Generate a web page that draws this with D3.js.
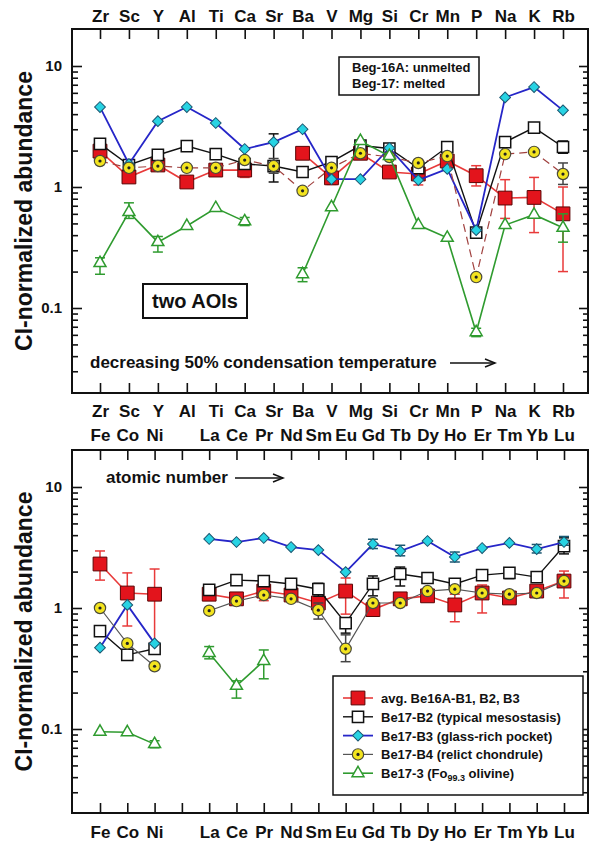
<!DOCTYPE html>
<html>
<head>
<meta charset="utf-8">
<script src="https://cdn.jsdelivr.net/npm/d3@7"></script>
<style>
  body { margin: 0; background: #fff; }
  svg text { font-family: Arial, "Liberation Sans", Helvetica, sans-serif; font-weight: bold; fill: #111; }
</style>
</head>
<body>
<div id="chart"></div>
<script>
// element order, top panel (decreasing 50% condensation temperature)
const topElements = ["Zr","Sc","Y","Al","Ti","Ca","Sr","Ba","V","Mg","Si","Cr","Mn","P","Na","K","Rb"];
// element order, bottom panel (atomic number), one empty slot between Ni and La
const botElements = ["Fe","Co","Ni","","La","Ce","Pr","Nd","Sm","Eu","Gd","Tb","Dy","Ho","Er","Tm","Yb","Lu"];

// CI-normalized abundances, top panel
const be16aTop  = [1.98,1.21,1.52,1.10,1.38,1.38,null,1.90,1.19,1.90,1.33,1.28,1.64,1.24,0.81,0.82,0.60];
const be17b2Top = [2.27,1.52,1.84,2.18,1.87,1.55,1.49,1.33,1.61,2.20,2.08,1.43,2.14,0.42,2.35,3.10,2.14];
const be17b3Top = [4.58,1.55,3.50,4.58,3.38,2.06,2.35,3.00,1.16,1.16,2.10,1.14,1.41,0.44,5.50,6.70,4.30];
const be17b4Top = [1.64,1.44,1.49,1.44,1.44,1.67,1.49,0.93,1.44,1.90,1.77,1.58,1.80,0.18,1.87,1.95,1.28];
const be173Top  = [0.235,0.62,0.35,0.476,0.67,0.52,null,0.19,0.68,2.40,1.80,0.485,0.38,0.063,0.485,0.59,0.46];

// error bar limits, top panel (null = no bar)
const be16aTopLo  = [null,null,null,null,null,1.20,null,null,1.05,null,null,1.04,null,1.02,0.55,0.42,0.20];
const be16aTopHi  = [null,null,null,null,null,1.55,null,null,1.35,null,null,1.67,null,1.50,1.15,1.20,1.00];
const be17b2TopLo = [null,null,null,null,null,null,1.10,null,null,null,null,null,null,null,null,null,1.90];
const be17b2TopHi = [null,null,null,null,null,null,2.75,null,null,null,null,null,null,null,null,null,2.40];
const be17b4TopLo = [null,null,null,null,null,null,1.30,null,null,null,null,null,null,null,null,null,1.05];
const be17b4TopHi = [null,null,null,null,null,null,1.72,null,null,null,null,null,null,null,null,null,1.58];
const be173TopLo  = [0.19,0.55,0.29,null,null,0.48,null,0.165,null,null,null,null,null,0.058,null,null,0.35];
const be173TopHi  = [0.26,0.74,0.39,null,null,0.56,null,0.215,null,null,null,null,null,0.068,null,null,0.60];

// CI-normalized abundances, bottom panel
const be16aBot  = [2.31,1.33,1.30,null,1.30,1.19,1.38,1.28,1.10,1.38,0.97,1.19,1.26,1.06,1.33,1.21,1.38,1.67];
const be17b2Bot = [0.645,0.41,0.46,null,1.41,1.70,1.67,1.58,1.43,0.75,1.58,1.91,1.77,1.58,1.87,1.95,1.80,3.25];
const be17b3Bot = [0.47,1.06,0.51,null,3.72,3.51,3.79,3.19,3.01,1.98,3.38,2.96,3.58,2.64,3.13,3.45,3.07,3.51];
const be17b4Bot = [1.00,0.51,0.33,null,0.95,1.14,1.28,1.19,0.96,0.46,1.10,1.10,1.38,1.43,1.33,1.30,1.33,1.67];
const be173Bot  = [0.095,0.094,0.075,null,0.425,0.227,0.365,null,null,null,null,null,null,null,null,null,null,null];

// error bar limits, bottom panel
const be16aBotLo  = [1.70,0.71,0.52,null,null,null,1.15,null,null,0.89,null,null,null,0.77,0.91,null,null,1.21];
const be16aBotHi  = [2.96,1.95,2.10,null,null,null,1.62,null,null,1.77,null,null,null,1.30,1.55,null,null,2.02];
const be17b2BotLo = [null,null,null,null,null,null,null,null,1.25,0.62,1.26,1.52,null,1.45,null,1.75,null,2.80];
const be17b2BotHi = [null,null,null,null,null,null,null,null,1.60,0.83,1.84,2.18,null,1.70,null,2.10,null,3.80];
const be17b3BotLo = [null,null,null,null,null,null,null,null,null,null,3.10,2.70,null,2.40,null,null,2.85,3.30];
const be17b3BotHi = [null,null,null,null,null,null,null,null,null,null,3.70,3.30,null,2.90,null,null,3.35,3.90];
const be17b4BotLo = [null,null,null,null,null,null,null,null,0.81,0.36,null,null,null,null,null,null,null,null];
const be17b4BotHi = [null,null,null,null,null,null,null,null,1.10,0.60,null,null,null,null,null,null,null,null];
const be173BotLo  = [null,null,0.070,null,0.38,0.18,0.26,null,null,null,null,null,null,null,null,null,null,null];
const be173BotHi  = [null,null,0.080,null,0.48,0.25,0.45,null,null,null,null,null,null,null,null,null,null,null];

const legendLabels = ["avg. Be16A-B1, B2, B3","Be17-B2 (typical mesostasis)","Be17-B3 (glass-rich pocket)","Be17-B4 (relict chondrule)","Be17-3 (Fo"];

let W = 591, H = 843;
let left = 72, right = 588;

let svg = d3.select("#chart").append("svg")
    .attr("width", W)
    .attr("height", H);

// series styles, same order as legend
const styles = [
  {marker: "square",   fill: "#e3141c", stroke: "#5a0505", line: "#e83a3a", width: 1.6},
  {marker: "open",     fill: "#ffffff", stroke: "#111111", line: "#111111", width: 1.4},
  {marker: "diamond",  fill: "#27d3e3", stroke: "#1a5670", line: "#2626c8", width: 1.8},
  {marker: "circle",   fill: "#f3e41e", stroke: "#4a4a3a", line: "#555555", width: 1.2},
  {marker: "triangle", fill: "#ffffff", stroke: "#2f9b2f", line: "#2f9b2f", width: 1.6}
];

function drawMarker(g, type, st) {
  if (type == "square") {
    g.append("path").attr("d", d3.symbol(d3.symbolSquare, 190)())
      .attr("fill", st.fill).attr("stroke", st.stroke).attr("stroke-width", 1);
  } else if (type == "open") {
    g.append("path").attr("d", d3.symbol(d3.symbolSquare, 125)())
      .attr("fill", st.fill).attr("stroke", st.stroke).attr("stroke-width", 1.5);
  } else if (type == "diamond") {
    g.append("path").attr("d", d3.symbol(d3.symbolSquare, 58)())
      .attr("transform", "rotate(45)")
      .attr("fill", st.fill).attr("stroke", st.stroke).attr("stroke-width", 1);
  } else if (type == "circle") {
    g.append("path").attr("d", d3.symbol(d3.symbolCircle, 100)())
      .attr("fill", st.fill).attr("stroke", st.stroke).attr("stroke-width", 1.2);
    g.append("circle").attr("r", 1.6).attr("fill", "#222");
  } else {
    g.append("path").attr("d", d3.symbol(d3.symbolTriangle, 62)())
      .attr("fill", st.fill).attr("stroke", st.stroke).attr("stroke-width", 1.5);
  }
}

function drawPanel(top, bottom, elements, series, topLabelPad, botLabelPad, showTopLabels, showBotLabels) {
  let x = d3.scaleLinear()
      .domain([0, elements.length - 1])
      .range([100, elements.length == 17 ? 563 : 564]);

  // 10 sits 37px below the frame top, one decade = 121px
  let y = d3.scaleLog()
      .domain([0.1, 10])
      .range([top + 37 + 242, top + 37]);

  let g = svg.append("g");
  let idx = d3.range(elements.length);

  // category ticks, top and bottom, pointing inwards
  let xTopAxis = g.append("g")
      .attr("transform", "translate(0," + top + ")")
      .call(d3.axisTop(x).tickValues(idx).tickSize(-10).tickPadding(topLabelPad)
        .tickFormat(i => showTopLabels ? showTopLabels[i] : ""));
  let xBotAxis = g.append("g")
      .attr("transform", "translate(0," + bottom + ")")
      .call(d3.axisBottom(x).tickValues(idx).tickSize(-10).tickPadding(botLabelPad)
        .tickFormat(i => showBotLabels ? showBotLabels[i] : ""));

  // log ticks, left and right
  let minor = [];
  [0.01, 0.1, 1, 10].forEach(d => { for (let k = 2; k <= 9; k++) minor.push(d * k); });
  minor = minor.filter(v => y(v) > top + 2 && y(v) < bottom - 2);

  g.append("g")
      .attr("transform", "translate(" + left + ",0)")
      .call(d3.axisLeft(y).tickValues([0.1, 1, 10]).tickSize(-10).tickPadding(10)
        .tickFormat(d => d >= 1 ? d3.format("d")(d) : "0.1"));
  g.append("g")
      .attr("transform", "translate(" + left + ",0)")
      .call(d3.axisLeft(y).tickValues(minor).tickSize(-6).tickFormat(""));
  g.append("g")
      .attr("transform", "translate(" + right + ",0)")
      .call(d3.axisRight(y).tickValues([0.1, 1, 10]).tickSize(-9).tickFormat(""));
  g.append("g")
      .attr("transform", "translate(" + right + ",0)")
      .call(d3.axisRight(y).tickValues(minor).tickSize(-5).tickFormat(""));

  g.selectAll(".domain").remove();
  g.selectAll(".tick line").attr("stroke", "#111").attr("stroke-width", 1.6);
  g.selectAll(".tick text").attr("font-size", 15).attr("fill", "#111")
      .attr("font-family", "Arial, 'Liberation Sans', sans-serif").attr("font-weight", "bold");
  xTopAxis.selectAll(".tick text").attr("font-size", 17);
  xBotAxis.selectAll(".tick text").attr("font-size", 17);

  // frame
  g.append("rect")
      .attr("x", left).attr("y", top)
      .attr("width", right - left).attr("height", bottom - top)
      .attr("fill", "none").attr("stroke", "#111").attr("stroke-width", 2);

  let line = d3.line()
      .defined(d => d.v != null)
      .x(d => x(d.i))
      .y(d => y(d.v));

  series.forEach(s => {
    let st = styles[s.style];
    let pts = s.values.map((v, i) => ({i: i, v: v, lo: s.lo[i], hi: s.hi[i]}));

    g.append("path")
        .datum(pts)
        .attr("fill", "none")
        .attr("stroke", s.line || st.line)
        .attr("stroke-width", st.width)
        .attr("stroke-dasharray", s.dash || null)
        .attr("d", line);

    // error bars
    let eb = g.append("g").attr("stroke", s.style == 0 ? "#e83a3a" : st.stroke == "#4a4a3a" ? "#444" : st.stroke)
        .attr("stroke-width", 1.5);
    pts.filter(d => d.lo != null).forEach(d => {
      eb.append("line").attr("x1", x(d.i)).attr("x2", x(d.i)).attr("y1", y(d.lo)).attr("y2", y(d.hi));
      eb.append("line").attr("x1", x(d.i) - 5).attr("x2", x(d.i) + 5).attr("y1", y(d.lo)).attr("y2", y(d.lo));
      eb.append("line").attr("x1", x(d.i) - 5).attr("x2", x(d.i) + 5).attr("y1", y(d.hi)).attr("y2", y(d.hi));
    });

    g.append("g").selectAll("g")
        .data(pts.filter(d => d.v != null))
        .join("g")
        .attr("transform", d => "translate(" + x(d.i) + "," + y(d.v) + ")")
        .each(function() { drawMarker(d3.select(this), st.marker, st); });
  });

  // y axis title
  svg.append("text")
      .attr("transform", "translate(32," + ((top + bottom) / 2) + ")rotate(-90)")
      .attr("text-anchor", "middle")
      .attr("font-size", 23)
      .text("CI-normalized abundance");

  return {x: x, y: y};
}

// top panel
drawPanel(29, 393, topElements, [
  {style: 0, values: be16aTop,  lo: be16aTopLo,  hi: be16aTopHi},
  {style: 1, values: be17b2Top, lo: be17b2TopLo, hi: be17b2TopHi},
  {style: 2, values: be17b3Top, lo: topElements.map(() => null), hi: topElements.map(() => null)},
  {style: 3, values: be17b4Top, lo: be17b4TopLo, hi: be17b4TopHi, line: "#a0403e", dash: "8,5"},
  {style: 4, values: be173Top,  lo: be173TopLo,  hi: be173TopHi}
], 7, 12, topElements, topElements);

// bottom panel
drawPanel(450, 813, botElements, [
  {style: 0, values: be16aBot,  lo: be16aBotLo,  hi: be16aBotHi},
  {style: 1, values: be17b2Bot, lo: be17b2BotLo, hi: be17b2BotHi},
  {style: 2, values: be17b3Bot, lo: be17b3BotLo, hi: be17b3BotHi},
  {style: 3, values: be17b4Bot, lo: be17b4BotLo, hi: be17b4BotHi},
  {style: 4, values: be173Bot,  lo: be173BotLo,  hi: be173BotHi}
], 9, 13, botElements, botElements);

// annotations, top panel
svg.append("rect").attr("x", 339).attr("y", 57).attr("width", 140).attr("height", 38)
    .attr("fill", "#fff").attr("stroke", "#111").attr("stroke-width", 1.5);
svg.append("text").attr("x", 352).attr("y", 72).attr("font-size", 13).text("Beg-16A: unmelted");
svg.append("text").attr("x", 352).attr("y", 88).attr("font-size", 13).text("Beg-17: melted");

svg.append("rect").attr("x", 143).attr("y", 284).attr("width", 104).attr("height", 34)
    .attr("fill", "#fff").attr("stroke", "#111").attr("stroke-width", 2);
svg.append("text").attr("x", 195).attr("y", 308).attr("text-anchor", "middle")
    .attr("font-size", 20).text("two AOIs");

svg.append("text").attr("x", 90).attr("y", 368).attr("font-size", 17)
    .text("decreasing 50% condensation temperature");
svg.append("text").attr("x", 106).attr("y", 483).attr("font-size", 17)
    .text("atomic number");

function arrow(x1, x2, yy) {
  svg.append("line").attr("x1", x1).attr("x2", x2).attr("y1", yy).attr("y2", yy)
      .attr("stroke", "#111").attr("stroke-width", 1.5);
  svg.append("path").attr("d", "M" + (x2 - 10) + "," + (yy - 4) + "L" + x2 + "," + yy + "L" + (x2 - 10) + "," + (yy + 4))
      .attr("fill", "none").attr("stroke", "#111").attr("stroke-width", 1.5);
}
arrow(450, 495, 363);
arrow(235, 283, 478);

// legend
let lg = svg.append("g");
lg.append("rect").attr("x", 333).attr("y", 676).attr("width", 250).attr("height", 119)
    .attr("fill", "#fff").attr("stroke", "#111").attr("stroke-width", 1.5);
legendLabels.forEach((lab, i) => {
  let st = styles[i];
  let yy = 698 + i * 18.8;
  lg.append("line").attr("x1", 343).attr("x2", 373).attr("y1", yy).attr("y2", yy)
      .attr("stroke", st.line).attr("stroke-width", st.width);
  let m = lg.append("g").attr("transform", "translate(358," + yy + ")");
  drawMarker(m, st.marker, st);
  let t = lg.append("text").attr("x", 381).attr("y", yy + 5).attr("font-size", 13).text(lab);
  if (i == 4) {
    t.append("tspan").attr("font-size", 9).attr("dy", 3).text("99.3");
    t.append("tspan").attr("dy", -3).text(" olivine)");
  }
});
</script>
</body>
</html>
